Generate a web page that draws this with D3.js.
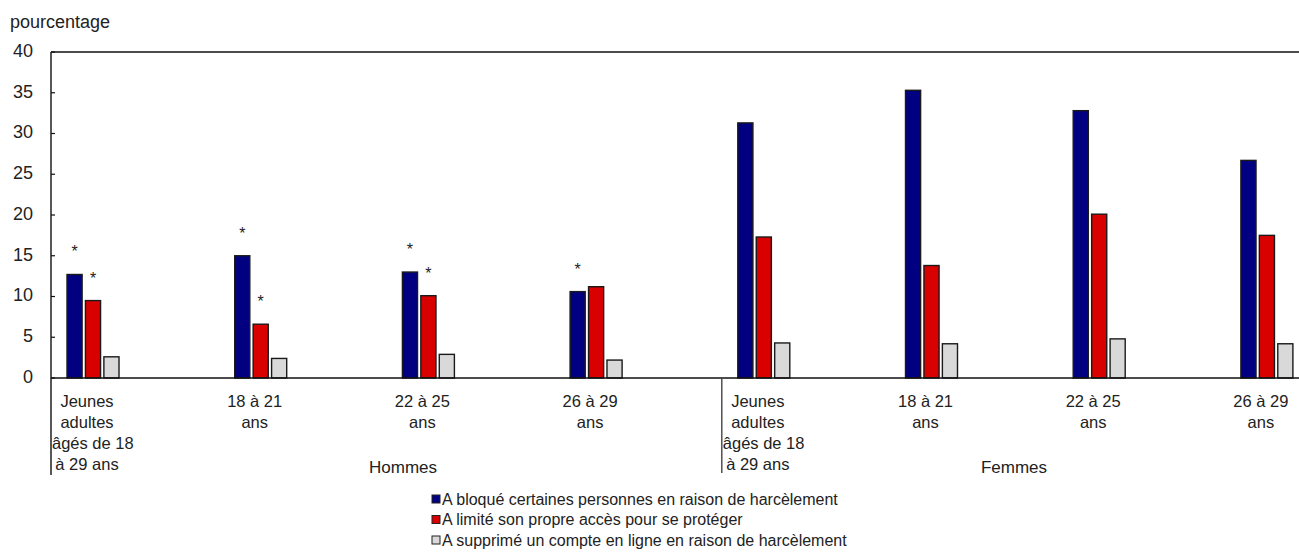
<!DOCTYPE html>
<html>
<head>
<meta charset="utf-8">
<script src="https://cdn.jsdelivr.net/npm/d3@7"></script>
<style>
  html, body { margin: 0; padding: 0; background: #fff; }
  svg { display: block; font-family: "Liberation Sans", Arial, sans-serif; }
</style>
</head>
<body>
<svg id="chart" width="1299" height="556"></svg>
<script>
// ---- Data ----
const categories = ["H-all", "H-18-21", "H-22-25", "H-26-29", "F-all", "F-18-21", "F-22-25", "F-26-29"];
const categoryLabels = [
  ["Jeunes", "adultes", "âgés de 18", "à 29 ans"],
  ["18 à 21", "ans"],
  ["22 à 25", "ans"],
  ["26 à 29", "ans"],
  ["Jeunes", "adultes", "âgés de 18", "à 29 ans"],
  ["18 à 21", "ans"],
  ["22 à 25", "ans"],
  ["26 à 29", "ans"]
];
const groups = ["Hommes", "Femmes"];
const seriesNames = [
  "A bloqué certaines personnes en raison de harcèlement",
  "A limité son propre accès pour se protéger",
  "A supprimé un compte en ligne en raison de harcèlement"
];
const blocked = [12.7, 15.0, 13.0, 10.6, 31.3, 35.3, 32.8, 26.7];
const limited = [9.5, 6.6, 10.1, 11.2, 17.3, 13.8, 20.1, 17.5];
const deleted = [2.6, 2.4, 2.9, 2.2, 4.3, 4.2, 4.8, 4.2];
// significance markers (*) : per series, per category
const starBlocked = [true, true, true, true, false, false, false, false];
const starLimited = [true, true, true, false, false, false, false, false];
const starDeleted = [false, false, false, false, false, false, false, false];
const yTicks = [0, 5, 10, 15, 20, 25, 30, 35, 40];
const yTitle = "pourcentage";

const seriesValues = [blocked, limited, deleted];
const seriesStars = [starBlocked, starLimited, starDeleted];
const colors = ["#000080", "#d90000", "#d9d9d9"];

(function () {
  // ---- Layout ----
  const svg = d3.select("#chart");
  const mLeft = 51, mTop = 52, mBottom = 378;
  const catStep = 167.7;
  const W = 1299;

  const x0 = d3.scaleBand().domain(categories).range([mLeft, mLeft + catStep * categories.length]).padding(0);
  const x1 = d3.scaleBand().domain(d3.range(seriesNames.length)).range([16, 68]).paddingInner(0.18).paddingOuter(0);
  const y = d3.scaleLinear().domain([0, 40]).range([mBottom, mTop]);

  // y title
  svg.append("text").attr("x", 10).attr("y", 28).attr("font-size", 18).attr("fill", "#222").text(yTitle);

  // y axis labels
  svg.append("g").selectAll("text").data(yTicks).join("text")
    .attr("x", 33).attr("y", d => y(d) - 1.5).attr("dy", "0.35em")
    .attr("text-anchor", "end").attr("font-size", 18).attr("fill", "#222")
    .text(d => d);

  // tick marks (inside)
  svg.append("g").selectAll("line").data(yTicks).join("line")
    .attr("x1", mLeft).attr("x2", mLeft + 4)
    .attr("y1", d => y(d)).attr("y2", d => y(d))
    .attr("stroke", "#111").attr("stroke-width", 1.2);

  // bars
  const gBars = svg.append("g");
  categories.forEach((c, ci) => {
    seriesValues.forEach((vals, si) => {
      const v = vals[ci];
      gBars.append("rect")
        .attr("x", x0(c) + x1(si))
        .attr("y", y(v))
        .attr("width", x1.bandwidth())
        .attr("height", y(0) - y(v))
        .attr("fill", colors[si])
        .attr("stroke", "#1a1a1a").attr("stroke-width", 1.4);
      if (seriesStars[si][ci]) {
        gBars.append("text")
          .attr("x", x0(c) + x1(si) + x1.bandwidth() / 2)
          .attr("y", y(v) - 17)
          .attr("text-anchor", "middle").attr("font-size", 16).attr("fill", "#222")
          .text("*");
      }
    });
  });

  // frame lines
  svg.append("line").attr("x1", mLeft).attr("x2", W).attr("y1", mTop).attr("y2", mTop).attr("stroke", "#111").attr("stroke-width", 1.6);
  svg.append("line").attr("x1", mLeft).attr("x2", W).attr("y1", mBottom).attr("y2", mBottom).attr("stroke", "#111").attr("stroke-width", 1.6);
  svg.append("line").attr("x1", mLeft).attr("x2", mLeft).attr("y1", mTop).attr("y2", 475).attr("stroke", "#111").attr("stroke-width", 1.4);
  const divX = x0(categories[4]);
  svg.append("line").attr("x1", divX).attr("x2", divX).attr("y1", mBottom).attr("y2", 473).attr("stroke", "#444").attr("stroke-width", 1.4);

  // category labels
  const gLab = svg.append("g");
  categories.forEach((c, ci) => {
    const cx = x0(c) + 36;
    categoryLabels[ci].forEach((line, li) => {
      const t = gLab.append("text")
        .attr("x", cx).attr("y", 407 + li * 21)
        .attr("text-anchor", "middle").attr("font-size", 16.5).attr("fill", "#222")
        .text(line);
      const bb = t.node().getBBox();
      if (bb.x < x0(c) + 1) {
        t.attr("text-anchor", "start").attr("x", x0(c) + 1);
      }
    });
  });

  // group labels
  const groupX = [403, 1014];
  groups.forEach((g, gi) => {
    svg.append("text").attr("x", groupX[gi]).attr("y", 473)
      .attr("text-anchor", "middle").attr("font-size", 17).attr("fill", "#222").text(g);
  });

  // legend
  const gLeg = svg.append("g");
  seriesNames.forEach((name, i) => {
    const yy = 499 + i * 20.5;
    gLeg.append("rect").attr("x", 432).attr("y", yy - 4).attr("width", 8).attr("height", 8)
      .attr("fill", colors[i]).attr("stroke", "#222").attr("stroke-width", 1);
    gLeg.append("text").attr("x", 442).attr("y", yy).attr("dy", "0.35em")
      .attr("font-size", 16).attr("fill", "#222").text(name);
  });
})();
</script>
</body>
</html>
